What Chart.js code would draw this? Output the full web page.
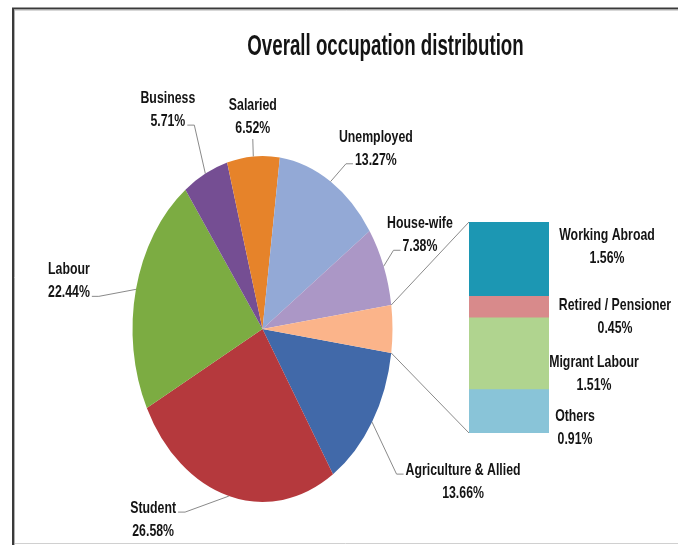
<!DOCTYPE html>
<html><head><meta charset="utf-8">
<script src="https://cdn.jsdelivr.net/npm/chart.js@4/dist/chart.umd.min.js"></script>
<style>
html,body{margin:0;padding:0;background:#fff;}
#wrap{position:relative;width:678px;height:545px;overflow:hidden;background:#fff;}
#wrap canvas{position:absolute;left:0;top:0;}
</style></head><body>
<div id="wrap"><canvas id="pie" width="678" height="545"></canvas><canvas id="bar" width="678" height="545"></canvas></div>
<script>
// ---- data ----
const chartTitle = 'Overall occupation distribution';
const pieCategories = ['Agriculture & Allied','Student','Labour','Business','Salaried','Unemployed','House-wife','Other'];
const barCategories = ['Others','Migrant Labour','Retired / Pensioner','Working Abroad'];
const barValues = [0.91, 1.51, 0.45, 1.56];
const pieMainValues = [13.66, 26.58, 22.44, 5.71, 6.52, 13.27, 7.38];
const otherValue = 4.43;
const pieValues = pieMainValues.concat([otherValue]);

// ---- style ----
const pieColors = ['#4169a9','#b5393d','#7cac42','#754e93','#e6832a','#93a9d6','#ab97c6','#fbb48a'];
const barColors = ['#89c4d8','#b0d48f','#d88a8b','#1c97b3'];
const STRETCH = 173/130;
const LABEL_FONT = 'bold 14px "Liberation Sans", Arial, sans-serif';
const LSX = 0.88, LSY = 1.12, LINE_GAP = 23;
const TEXT_COLOR = '#141414';
const LEADER_COLOR = '#8a8a8a';
// label placement relative to slice edge point: dx,dy to (center x, first baseline)
const pieLabelStyle = [
  {dx:91, dy:53, side:'left', line:0},
  {dx:-75.7, dy:17, side:'right', line:0},
  {dx:-67, dy:-15, side:'right', line:1},
  {dx:-37.5, dy:-70.5, side:'right', line:1},
  {dx:-0.5, dy:-46.4, side:'bottom', line:1},
  {dx:45.3, dy:-39.8, side:'left', line:1},
  {dx:36.3, dy:-38, side:'left', line:1}
];
// bar labels relative to (bar right edge, segment center)
const barLabelStyle = [
  {dx:26, dy:10},
  {dx:45, dy:13.5},
  {dx:66, dy:2.5},
  {dx:58, dy:-19.5}
];

function drawText(ctx, str, x, y, font, sx, sy, color){
  ctx.save(); ctx.font = font; ctx.fillStyle = color; ctx.textAlign = 'center'; ctx.textBaseline = 'alphabetic';
  ctx.translate(x, y); ctx.scale(sx, sy); ctx.fillText(str, 0, 0); ctx.restore();
}
function textW(ctx, str, font, sx){ ctx.save(); ctx.font = font; const w = ctx.measureText(str).width * sx; ctx.restore(); return w; }
function fmt(v){ return v.toFixed(2) + '%'; }
function edgePoint(arc, ang){ return {x: arc.x + arc.outerRadius*Math.cos(ang), y: arc.y + arc.outerRadius*STRETCH*Math.sin(ang)}; }

const ellipsePlugin = {
  id:'ellipse',
  beforeDraw(chart){
    const ctx = chart.ctx; ctx.save();
    ctx.fillStyle = '#fff'; ctx.fillRect(0,0,chart.width,chart.height);
    ctx.strokeStyle = '#d0d0d0'; ctx.lineWidth = 1;
    ctx.beginPath(); ctx.moveTo(13, 543.5); ctx.lineTo(chart.width, 543.5); ctx.stroke();
    ctx.strokeStyle = '#3a3a3a'; ctx.lineWidth = 2;
    ctx.beginPath(); ctx.moveTo(13, chart.height); ctx.lineTo(13, 8.5); ctx.lineTo(chart.width, 8.5); ctx.stroke();
    ctx.strokeStyle = '#b0b0b0'; ctx.lineWidth = 1;
    ctx.beginPath(); ctx.moveTo(14.5, chart.height); ctx.lineTo(14.5, 10); ctx.lineTo(chart.width, 10); ctx.stroke();
    ctx.restore();
  },
  beforeDatasetsDraw(chart){
    const a = chart.getDatasetMeta(0).data[0]; const ctx = chart.ctx;
    ctx.save(); ctx.translate(a.x, a.y); ctx.scale(1, STRETCH); ctx.translate(-a.x, -a.y);
  },
  afterDatasetsDraw(chart){ chart.ctx.restore(); },
  afterDraw(chart){
    const ctx = chart.ctx;
    drawText(ctx, chartTitle, 385.5, 55, 'bold 22px "Liberation Sans", Arial, sans-serif', 0.85, 1.3, TEXT_COLOR);
    const arcs = chart.getDatasetMeta(0).data;
    pieLabelStyle.forEach((st, i) => {
      const arc = arcs[i];
      const mid = (arc.startAngle + arc.endAngle)/2;
      const p = edgePoint(arc, mid);
      const cx = p.x + st.dx, by = p.y + st.dy;
      const lines = [pieCategories[i], fmt(pieValues[i])];
      lines.forEach((t, k) => drawText(ctx, t, cx, by + k*LINE_GAP, LABEL_FONT, LSX, LSY, TEXT_COLOR));
      ctx.save(); ctx.strokeStyle = LEADER_COLOR; ctx.lineWidth = 1; ctx.beginPath();
      if (st.side === 'bottom') {
        ctx.moveTo(cx, by + LINE_GAP + 6); ctx.lineTo(p.x, p.y);
      } else {
        const w = textW(ctx, lines[st.line], LABEL_FONT, LSX);
        const ly = by + st.line*LINE_GAP - 1;
        const sgn = st.side === 'left' ? -1 : 1;
        const x0 = cx + sgn*(w/2 + 2), x1 = x0 + sgn*7;
        ctx.moveTo(x0, ly); ctx.lineTo(x1, ly); ctx.lineTo(p.x, p.y);
      }
      ctx.stroke(); ctx.restore();
    });
  }
};

const pieChart = new Chart(document.getElementById('pie'), {
  type:'pie',
  data:{labels:pieCategories, datasets:[{data:pieValues, backgroundColor:pieColors, borderWidth:0}]},
  options:{
    responsive:false, maintainAspectRatio:false, animation:false,
    rotation: 90 + otherValue/100*180,
    layout:{padding:{left:132.5, right:285.5, top:199, bottom:86}},
    plugins:{legend:{display:false}, tooltip:{enabled:false}, title:{display:false}}
  },
  plugins:[ellipsePlugin]
});

const barPlugin = {
  id:'barLabels',
  afterDraw(chart){
    const ctx = chart.ctx;
    const arc = pieChart.getDatasetMeta(0).data[pieValues.length-1];
    const pTop = edgePoint(arc, arc.startAngle), pBot = edgePoint(arc, arc.endAngle);
    const topBar = chart.getDatasetMeta(barValues.length-1).data[0];
    const botBar = chart.getDatasetMeta(0).data[0];
    ctx.save(); ctx.strokeStyle = LEADER_COLOR; ctx.lineWidth = 1; ctx.beginPath();
    ctx.moveTo(pTop.x, pTop.y); ctx.lineTo(topBar.x - topBar.width/2, topBar.y);
    ctx.moveTo(pBot.x, pBot.y); ctx.lineTo(botBar.x - botBar.width/2, botBar.base);
    ctx.stroke(); ctx.restore();
    barLabelStyle.forEach((st, i) => {
      const b = chart.getDatasetMeta(i).data[0];
      const cx = b.x + b.width/2 + st.dx, by = (b.y + b.base)/2 + st.dy;
      drawText(ctx, barCategories[i], cx, by, LABEL_FONT, LSX, LSY, TEXT_COLOR);
      drawText(ctx, fmt(barValues[i]), cx, by + LINE_GAP, LABEL_FONT, LSX, LSY, TEXT_COLOR);
    });
  }
};

new Chart(document.getElementById('bar'), {
  type:'bar',
  data:{labels:['Other'], datasets: barCategories.map((c, i) => ({label:c, data:[barValues[i]], backgroundColor:barColors[i], borderWidth:0, barPercentage:1, categoryPercentage:1}))},
  options:{
    responsive:false, maintainAspectRatio:false, animation:false,
    layout:{padding:{left:469, right:129, top:222, bottom:112}},
    scales:{x:{display:false, stacked:true}, y:{display:false, stacked:true, min:0, max:otherValue}},
    plugins:{legend:{display:false}, tooltip:{enabled:false}}
  },
  plugins:[barPlugin]
});
</script>
</body></html>
